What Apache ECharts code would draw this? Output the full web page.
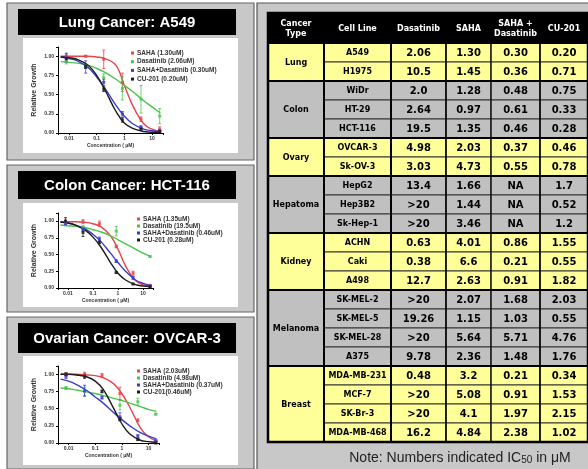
<!DOCTYPE html>
<html><head><meta charset="utf-8">
<script src="https://cdn.jsdelivr.net/npm/echarts@6/dist/echarts.min.js"></script>
<style>html,body{margin:0;padding:0;background:#fff}#c{width:588px;height:469px}</style>
</head><body><div id="c"></div>
<script>
// ---------- dose-response data ----------
const doses = [0.008, 0.04, 0.18, 0.85, 4, 19];
const fitX = [0.005, 0.01, 0.02, 0.05, 0.1, 0.2, 0.5, 1, 2, 5, 10, 20];
const xTicks = [0.01, 0.1, 1, 10];
const yTicks = [0, 0.25, 0.5, 0.75, 1.0];

const lungNames = ['SAHA (1.30uM)', 'Dasatinib (2.06uM)', 'SAHA+Dasatinib (0.30uM)', 'CU-201 (0.20uM)'];
const lungSaha = [1.0, 1.0, 0.96, 0.66, 0.18, 0.05];
const lungSahaErr = [0.03, 0.01, 0.12, 0.12, 0.03, 0.03];
const lungSahaFit = [1.0, 1.0, 1.0, 1.0, 0.99, 0.97, 0.88, 0.62, 0.36, 0.12, 0.05, 0.02];
const lungDasa = [0.93, 0.87, 0.72, 0.58, 0.44, 0.22];
const lungDasaErr = [0.03, 0.03, 0.05, 0.15, 0.18, 0.1];
const lungDasaFit = [0.93, 0.92, 0.91, 0.88, 0.84, 0.79, 0.7, 0.62, 0.54, 0.42, 0.34, 0.26];
const lungCombo = [0.98, 0.86, 0.66, 0.25, 0.08, 0.03];
const lungComboErr = [0.06, 0.08, 0.04, 0.03, 0.01, 0.01];
const lungComboFit = [0.99, 0.97, 0.94, 0.85, 0.73, 0.58, 0.36, 0.22, 0.12, 0.05, 0.03, 0.02];
const lungCu = [0.97, 0.87, 0.57, 0.17, 0.05, 0.02];
const lungCuErr = [0.03, 0.03, 0.03, 0.03, 0.01, 0.01];
const lungCuFit = [0.99, 0.98, 0.96, 0.88, 0.75, 0.56, 0.28, 0.13, 0.06, 0.02, 0.01, 0.01];

const colonNames = ['SAHA (1.35uM)', 'Dasatinib (19.5uM)', 'SAHA+Dasatinib (0.46uM)', 'CU-201 (0.28uM)'];
const colonSaha = [0.98, 0.99, 0.96, 0.62, 0.22, 0.04];
const colonSahaErr = [0.03, 0.03, 0.04, 0.02, 0.03, 0.01];
const colonSahaFit = [0.99, 0.99, 0.99, 0.98, 0.96, 0.92, 0.78, 0.58, 0.33, 0.11, 0.05, 0.03];
const colonDasa = [0.95, 0.9, null, 0.85, null, 0.47];
const colonDasaErr = [0.02, 0.03, 0, 0.07, 0, 0.01];
const colonDasaFit = [0.94, 0.93, 0.92, 0.9, 0.87, 0.84, 0.78, 0.72, 0.66, 0.58, 0.52, 0.47];
const colonCombo = [0.96, 0.88, 0.73, 0.40, 0.15, 0.03];
const colonComboErr = [0.02, 0.03, 0.03, 0.02, 0.02, 0.01];
const colonComboFit = [0.98, 0.97, 0.94, 0.88, 0.8, 0.7, 0.52, 0.38, 0.25, 0.12, 0.07, 0.04];
const colonCu = [1.0, 0.83, 0.68, 0.23, 0.06, 0.02];
const colonCuErr = [0.05, 0.06, 0.02, 0.01, 0.01, 0.01];
const colonCuFit = [0.99, 0.97, 0.94, 0.86, 0.76, 0.62, 0.38, 0.22, 0.12, 0.05, 0.03, 0.02];

const ovaryNames = ['SAHA (2.03uM)', 'Dasatinib (4.98uM)', 'SAHA+Dasatinib (0.37uM)', 'CU-201(0.46uM)'];
const ovarySaha = [1.0, 1.0, 0.98, 0.72, 0.33, 0.03];
const ovarySahaErr = [0.02, 0.03, 0.03, 0.09, 0.02, 0.01];
const ovarySahaFit = [1.0, 1.0, 1.0, 0.99, 0.98, 0.95, 0.86, 0.72, 0.52, 0.22, 0.09, 0.03];
const ovaryDasa = [0.8, 0.75, null, 0.55, 0.6, 0.42];
const ovaryDasaErr = [0.02, 0.06, 0, 0.07, 0.05, 0.01];
const ovaryDasaFit = [0.8, 0.79, 0.77, 0.74, 0.72, 0.69, 0.65, 0.62, 0.58, 0.53, 0.49, 0.46];
const ovaryCombo = [0.97, 0.76, 0.66, 0.38, 0.1, 0.03];
const ovaryComboErr = [0.03, 0.08, 0.02, 0.06, 0.02, 0.01];
const ovaryComboFit = [0.93, 0.9, 0.85, 0.76, 0.67, 0.58, 0.44, 0.34, 0.25, 0.15, 0.1, 0.06];
const ovaryCu = [1.0, 0.97, 0.75, 0.35, 0.05, 0.0];
const ovaryCuErr = [0.02, 0.03, 0.02, 0.02, 0.01, 0.01];
const ovaryCuFit = [1.0, 1.0, 0.99, 0.96, 0.9, 0.78, 0.5, 0.28, 0.13, 0.04, 0.02, 0.01];

const panelTitles = ['Lung Cancer: A549', 'Colon Cancer: HCT-116', 'Ovarian Cancer: OVCAR-3'];

// ---------- table data ----------
const tableHeaders = ['Cancer\nType', 'Cell Line', 'Dasatinib', 'SAHA', 'SAHA +\nDasatinib', 'CU-201'];
const cancerTypes = ['Lung', 'Colon', 'Ovary', 'Hepatoma', 'Kidney', 'Melanoma', 'Breast'];
const cancerRowCounts = [2, 3, 2, 3, 3, 4, 4];
const cellLines = ['A549', 'H1975', 'WiDr', 'HT-29', 'HCT-116', 'OVCAR-3', 'Sk-OV-3', 'HepG2', 'Hep3B2', 'Sk-Hep-1', 'ACHN', 'Caki', 'A498', 'SK-MEL-2', 'SK-MEL-5', 'SK-MEL-28', 'A375', 'MDA-MB-231', 'MCF-7', 'SK-Br-3', 'MDA-MB-468'];
const ic50Dasatinib = ['2.06', '10.5', '2.0', '2.64', '19.5', '4.98', '3.03', '13.4', '>20', '>20', '0.63', '0.38', '12.7', '>20', '19.26', '>20', '9.78', '0.48', '>20', '>20', '16.2'];
const ic50Saha = ['1.30', '1.45', '1.28', '0.97', '1.35', '2.03', '4.73', '1.66', '1.44', '3.46', '4.01', '6.6', '2.63', '2.07', '1.15', '5.64', '2.36', '3.2', '5.08', '4.1', '4.84'];
const ic50Combo = ['0.30', '0.36', '0.48', '0.61', '0.46', '0.37', '0.55', 'NA', 'NA', 'NA', '0.86', '0.21', '0.91', '1.68', '1.03', '5.71', '1.48', '0.21', '0.91', '1.97', '2.38'];
const ic50Cu201 = ['0.20', '0.71', '0.75', '0.33', '0.28', '0.46', '0.78', '1.7', '0.52', '1.2', '1.55', '0.55', '1.82', '2.03', '0.55', '4.76', '1.76', '0.34', '1.53', '2.15', '1.02'];

// ---------- layout / style ----------
const COLORS = ['#e8434b', '#4cc44c', '#3b3bd2', '#1c1c1c'];
const YELLOW = '#ffff99', GRAY = '#c0c0c0', PANEL = '#c8c8c8';
const charts = [
  {names: lungNames, pts: [lungSaha, lungDasa, lungCombo, lungCu], err: [lungSahaErr, lungDasaErr, lungComboErr, lungCuErr], fit: [lungSahaFit, lungDasaFit, lungComboFit, lungCuFit],
   grid: {left: 58, top: 47, width: 105, height: 86}, legend: {left: 131, top: 49.5, gap: 1.7}},
  {names: colonNames, pts: [colonSaha, colonDasa, colonCombo, colonCu], err: [colonSahaErr, colonDasaErr, colonComboErr, colonCuErr], fit: [colonSahaFit, colonDasaFit, colonComboFit, colonCuFit],
   grid: {left: 58, top: 213, width: 95, height: 75}, legend: {left: 137, top: 215.5, gap: 0}},
  {names: ovaryNames, pts: [ovarySaha, ovaryDasa, ovaryCombo, ovaryCu], err: [ovarySahaErr, ovaryDasaErr, ovaryComboErr, ovaryCuErr], fit: [ovarySahaFit, ovaryDasaFit, ovaryComboFit, ovaryCuFit],
   grid: {left: 58, top: 366, width: 101, height: 77}, legend: {left: 137, top: 367.5, gap: 0}}
];
const panels = [
  {y: 3, h: 157, barY: 9, barH: 26, plotY: 38, plotH: 115},
  {y: 165, h: 147, barY: 171, barH: 28, plotY: 203, plotH: 104},
  {y: 317, h: 152, barY: 323, barH: 30, plotY: 356, plotH: 109}
];
const colEdges = [0, 56, 123, 178, 223, 272, 320];
const HDR = 30 / 19;

const grids = [], xAxes = [], yAxes = [], series = [], legends = [];
charts.forEach((c, ci) => {
  grids.push(Object.assign({outerBoundsMode: 'none'}, c.grid));
  xAxes.push({
    type: 'log', logBase: 10, gridIndex: ci, min: 0.004, max: 25,
    axisLine: {lineStyle: {color: '#000', width: 1}},
    axisTick: {length: 2, lineStyle: {color: '#000'}},
    splitLine: {show: false},
    axisLabel: {fontSize: 5, fontWeight: 'bold', color: '#333', margin: 3,
      formatter: v => xTicks.some(t => Math.abs(t - v) / t < 1e-6) ? String(v) : ''},
    name: 'Concentration ( \u03bcM)', nameLocation: 'middle', nameGap: 10,
    nameTextStyle: {fontSize: 5, fontWeight: 'bold', color: '#333'}
  });
  yAxes.push({
    type: 'value', gridIndex: ci, min: 0, max: 1.12, interval: 0.25,
    axisLine: {show: true, lineStyle: {color: '#000', width: 1}},
    axisTick: {show: true, length: 2, lineStyle: {color: '#000'}},
    splitLine: {show: false},
    axisLabel: {fontSize: 5, fontWeight: 'bold', color: '#333', margin: 4,
      formatter: v => yTicks.some(t => Math.abs(t - v) < 1e-6) ? v.toFixed(2) : ''},
    name: 'Relative Growth', nameLocation: 'middle', nameGap: 20,
    nameTextStyle: {fontSize: 7, fontWeight: 'bold', color: '#333'}
  });
  c.names.forEach((nm, si) => {
    const col = COLORS[si];
    series.push({
      type: 'line', name: nm, xAxisIndex: ci, yAxisIndex: ci, smooth: 0.4, showSymbol: false, symbol: 'none',
      data: fitX.map((x, i) => [x, c.fit[si][i]]), lineStyle: {color: col, width: 1.4}, itemStyle: {color: col},
      z: 2, silent: true
    });
    series.push({
      type: 'scatter', name: nm, xAxisIndex: ci, yAxisIndex: ci, symbol: 'rect', symbolSize: 3,
      data: doses.map((x, i) => [x, c.pts[si][i]]).filter(d => d[1] != null),
      itemStyle: {color: col}, z: 3, silent: true
    });
    series.push({
      type: 'custom', name: nm, xAxisIndex: ci, yAxisIndex: ci, itemStyle: {color: col}, z: 3, silent: true,
      data: doses.map((x, i) => c.pts[si][i] == null ? null : [x, c.pts[si][i] - c.err[si][i], c.pts[si][i] + c.err[si][i]]).filter(d => d),
      renderItem: (params, api) => {
        const x = api.value(0);
        const a = api.coord([x, api.value(1)]), b = api.coord([x, api.value(2)]);
        const st = {stroke: col, lineWidth: 0.8};
        return {type: 'group', children: [
          {type: 'line', shape: {x1: a[0], y1: a[1], x2: b[0], y2: b[1]}, style: st},
          {type: 'line', shape: {x1: a[0] - 1.5, y1: a[1], x2: a[0] + 1.5, y2: a[1]}, style: st},
          {type: 'line', shape: {x1: b[0] - 1.5, y1: b[1], x2: b[0] + 1.5, y2: b[1]}, style: st}
        ]};
      }
    });
  });
  legends.push({
    data: c.names, left: c.legend.left, top: c.legend.top, orient: 'vertical', padding: 0,
    itemGap: c.legend.gap, itemWidth: 3, itemHeight: 3, icon: 'rect', selectedMode: false,
    textStyle: {fontSize: 6.5, lineHeight: 7, fontWeight: 'bold', fontFamily: 'Liberation Sans', color: '#333', padding: [0, 0, 0, -2]}
  });
});

// ---------- table (grid 3) ----------
grids.push({left: 268, top: 13, width: 320, height: 429, outerBoundsMode: 'none'});
xAxes.push({type: 'value', gridIndex: 3, min: 0, max: 320, show: false});
yAxes.push({type: 'value', gridIndex: 3, min: -HDR, max: 21, inverse: true, show: false});

const cells = [];
tableHeaders.forEach((h, i) => cells.push({c0: colEdges[i], c1: colEdges[i + 1], r0: -HDR, r1: 0, text: h, fill: '#000', color: '#fff', size: 8, stroke: '#000'}));
let r = 0;
const groupBounds = [];
cancerTypes.forEach((t, gi) => {
  const n = cancerRowCounts[gi];
  const fill = gi % 2 === 0 ? YELLOW : GRAY;
  cells.push({c0: colEdges[0], c1: colEdges[1], r0: r, r1: r + n, text: t, fill, color: '#000', size: 8, stroke: '#333'});
  for (let k = 0; k < n; k++) {
    const row = r + k;
    const vals = [cellLines[row], ic50Dasatinib[row], ic50Saha[row], ic50Combo[row], ic50Cu201[row]];
    vals.forEach((v, j) => cells.push({c0: colEdges[j + 1], c1: colEdges[j + 2], r0: row, r1: row + 1, text: v, fill, color: '#000', size: j === 0 ? 8 : 10, stroke: '#333'}));
  }
  r += n;
  groupBounds.push(r);
});
series.push({
  type: 'custom', xAxisIndex: 3, yAxisIndex: 3, silent: true, z: 5,
  data: cells.map(c => [c.c0, c.r0, c.c1, c.r1]),
  renderItem: (params, api) => {
    const c = cells[params.dataIndex];
    const p0 = api.coord([api.value(0), api.value(1)]), p1 = api.coord([api.value(2), api.value(3)]);
    return {type: 'group', children: [
      {type: 'rect', shape: {x: p0[0], y: p0[1], width: p1[0] - p0[0], height: p1[1] - p0[1]}, style: {fill: c.fill, stroke: c.stroke, lineWidth: 1}},
      {type: 'text', x: (p0[0] + p1[0]) / 2, y: (p0[1] + p1[1]) / 2 + 0.5,
        style: {text: c.text, fill: c.color, font: 'bold ' + c.size + 'px "DejaVu Sans"', align: 'center', verticalAlign: 'middle', lineHeight: c.size + 2}}
    ]};
  }
});
const rules = [];
[0].concat(groupBounds.slice(0, -1)).forEach(y => rules.push([0, y, 320, y, 2]));
const colW = [2, 2, 1.5, 1, 1.5];
colEdges.slice(1, -1).forEach((x, i) => rules.push([x, -HDR, x, 21, colW[i]]));
series.push({
  type: 'custom', xAxisIndex: 3, yAxisIndex: 3, silent: true, z: 6,
  data: rules,
  renderItem: (params, api) => {
    const a = api.coord([api.value(0), api.value(1)]), b = api.coord([api.value(2), api.value(3)]);
    return {type: 'line', shape: {x1: a[0], y1: a[1], x2: b[0], y2: b[1]}, style: {stroke: '#000', lineWidth: api.value(4)}};
  }
});
series.push({
  type: 'custom', xAxisIndex: 3, yAxisIndex: 3, silent: true, z: 7,
  data: [[0, -HDR, 320, 21]],
  renderItem: (params, api) => {
    const a = api.coord([api.value(0), api.value(1)]), b = api.coord([api.value(2), api.value(3)]);
    return {type: 'rect', shape: {x: a[0], y: a[1], width: b[0] - a[0], height: b[1] - a[1]}, style: {fill: 'none', stroke: '#000', lineWidth: 2.5}};
  }
});

// ---------- decoration ----------
const graphic = [];
panels.forEach((p, i) => {
  graphic.push({type: 'rect', z: -10, shape: {x: 7, y: p.y, width: 247, height: p.h}, style: {fill: PANEL, stroke: '#666', lineWidth: 1.2}});
  graphic.push({type: 'rect', z: -9, shape: {x: 18, y: p.barY, width: 218, height: p.barH}, style: {fill: '#000'}});
  graphic.push({type: 'text', z: -8, x: 127, y: p.barY + p.barH / 2 + 1, style: {text: panelTitles[i], fill: '#fff', font: 'bold 15px "Liberation Sans"', align: 'center', verticalAlign: 'middle'}});
  graphic.push({type: 'rect', z: -9, shape: {x: 23, y: p.plotY, width: 215, height: p.plotH}, style: {fill: '#fff'}});
});
graphic.push({type: 'rect', z: -10, shape: {x: 257, y: 3, width: 340, height: 470}, style: {fill: PANEL, stroke: '#555', lineWidth: 1.2}});
graphic.push({type: 'text', z: 10, x: 460, y: 457, style: {
  text: '{a|Note: Numbers indicated IC}{b|50}{a| in \u03bcM}', align: 'center', verticalAlign: 'middle',
  rich: {a: {font: '14px "Liberation Sans"', fill: '#222', verticalAlign: 'bottom', lineHeight: 16}, b: {font: '10px "Liberation Sans"', fill: '#222', verticalAlign: 'bottom', lineHeight: 14}}
}});

const chart = echarts.init(document.getElementById('c'), null, {renderer: 'canvas'});
chart.setOption({
  backgroundColor: '#fff', animation: false,
  grid: grids, xAxis: xAxes, yAxis: yAxes, legend: legends, series, graphic
});
</script></body></html>
